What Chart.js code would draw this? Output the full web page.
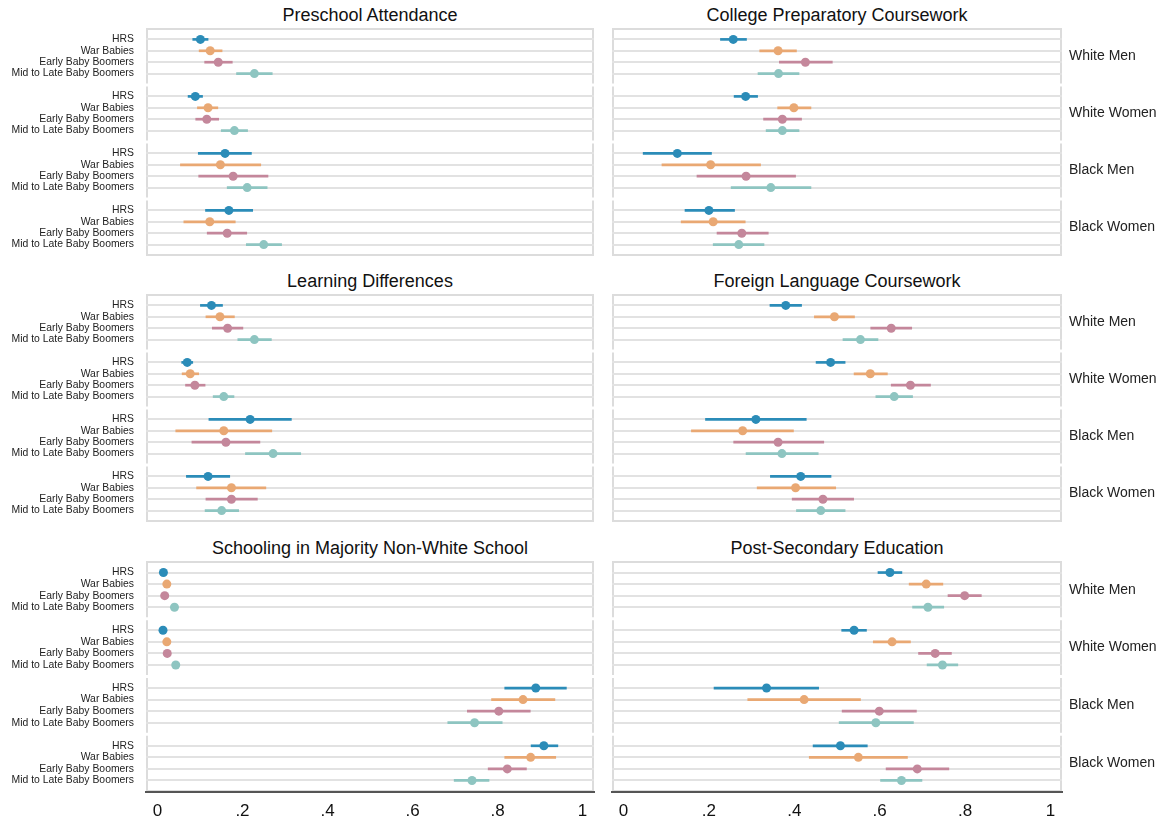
<!DOCTYPE html>
<html>
<head>
<meta charset="utf-8">
<title>Schooling measures by cohort, race and gender</title>
<script src="https://cdn.jsdelivr.net/npm/chart.js@4.4.1/dist/chart.umd.min.js"></script>
<style>
  html, body { margin: 0; padding: 0; background: #fff; overflow: hidden; }
  #page { position: relative; width: 1170px; height: 821px; }
  #page canvas { position: absolute; }
  .title {
    position: absolute; height: 20px; line-height: 20px;
    font: 18px "Liberation Sans", Arial, sans-serif; color: #111;
    text-align: center; white-space: nowrap;
  }
</style>
</head>
<body>
<div id="page"></div>
<script>
const cohorts = ['HRS', 'War Babies', 'Early Baby Boomers', 'Mid to Late Baby Boomers'];
const groups = ['White Men', 'White Women', 'Black Men', 'Black Women'];
const cohortColors = ['#2b8cb8', '#e9a873', '#c4879b', '#8ec5c1'];
const xTicks = [0, 0.2, 0.4, 0.6, 0.8, 1];
const xTickLabels = ['0', '.2', '.4', '.6', '.8', '1'];

// rows = groups (WM, WW, BM, BW), columns = cohorts
const preschoolEst = [[.101, .124, .143, .228], [.089, .119, .116, .181], [.159, .148, .178, .211], [.168, .123, .164, .250]];
const preschoolLo  = [[.083, .098, .111, .186], [.072, .094, .090, .150], [.096, .054, .097, .164], [.113, .062, .117, .209]];
const preschoolHi  = [[.119, .152, .176, .270], [.106, .142, .144, .212], [.221, .243, .260, .258], [.224, .183, .210, .292]];

const collegePrepEst = [[.257, .362, .426, .363], [.286, .399, .372, .372], [.126, .204, .287, .345], [.200, .210, .277, .270]];
const collegePrepLo  = [[.227, .319, .365, .315], [.259, .361, .328, .334], [.046, .090, .172, .252], [.144, .135, .219, .210]];
const collegePrepHi  = [[.288, .405, .489, .411], [.314, .439, .417, .411], [.206, .321, .403, .439], [.260, .285, .339, .329]];

const learningEst = [[.127, .147, .165, .228], [.070, .077, .088, .156], [.218, .156, .161, .272], [.119, .174, .174, .151]];
const learningLo  = [[.101, .114, .129, .189], [.057, .058, .066, .131], [.121, .043, .081, .207], [.068, .092, .114, .112]];
const learningHi  = [[.153, .181, .201, .268], [.083, .097, .112, .180], [.315, .269, .241, .337], [.170, .255, .235, .191]];

const languageEst = [[.380, .494, .627, .555], [.485, .578, .672, .634], [.310, .279, .362, .371], [.415, .403, .467, .462]];
const languageLo  = [[.343, .447, .579, .514], [.451, .540, .627, .591], [.192, .159, .258, .287], [.344, .313, .395, .405]];
const languageHi  = [[.417, .541, .675, .596], [.519, .618, .719, .677], [.428, .398, .469, .456], [.486, .497, .539, .519]];

const nonWhiteEst = [[.014, .022, .017, .040], [.013, .022, .023, .043], [.890, .860, .803, .746], [.909, .878, .823, .740]];
const nonWhiteLo  = [[.009, .016, .012, .033], [.009, .017, .018, .036], [.817, .786, .729, .683], [.879, .817, .778, .698]];
const nonWhiteHi  = [[.019, .028, .022, .047], [.017, .027, .028, .050], [.962, .935, .877, .811], [.942, .937, .868, .780]];

const postSecEst = [[.624, .709, .799, .713], [.540, .629, .730, .747], [.335, .423, .599, .591], [.508, .550, .688, .651]];
const postSecLo  = [[.596, .669, .760, .677], [.511, .585, .691, .711], [.212, .291, .512, .505], [.444, .435, .615, .602]];
const postSecHi  = [[.652, .748, .838, .750], [.569, .672, .768, .783], [.457, .555, .686, .679], [.571, .665, .762, .699]];

const panels = [
  { title: 'Preschool Attendance', est: preschoolEst, lo: preschoolLo, hi: preschoolHi },
  { title: 'College Preparatory Coursework', est: collegePrepEst, lo: collegePrepLo, hi: collegePrepHi },
  { title: 'Learning Differences', est: learningEst, lo: learningLo, hi: learningHi },
  { title: 'Foreign Language Coursework', est: languageEst, lo: languageLo, hi: languageHi },
  { title: 'Schooling in Majority Non-White School', est: nonWhiteEst, lo: nonWhiteLo, hi: nonWhiteHi },
  { title: 'Post-Secondary Education', est: postSecEst, lo: postSecLo, hi: postSecHi },
];

const FONT = '"Liberation Sans", Arial, sans-serif';
const ROWS_PER_GROUP = 5;           // 4 cohorts plus one row of spacing
const Y_MAX = groups.length * ROWS_PER_GROUP;
const rowPos = (g, c) => g * ROWS_PER_GROUP + c + 1;
const rowTicks = [];
groups.forEach((g, gi) => cohorts.forEach((c, ci) => rowTicks.push(rowPos(gi, ci))));
const groupTicks = groups.map((g, gi) => gi * ROWS_PER_GROUP + ROWS_PER_GROUP / 2);

const plotTops = [28, 294, 561];
const plotHeight = 228;
const columns = [
  { canvasLeft: 0, canvasWidth: 600, yWidth: 146, padRight: 6, y2Width: 0 },
  { canvasLeft: 600, canvasWidth: 570, yWidth: 12, padRight: 0, y2Width: 108 },
];

// vertical axes: fixed width, and no extra top/bottom padding from tick labels
const fixVertical = width => s => {
  s.width = width;
  s.paddingTop = 0;
  s.paddingBottom = 0;
};

// light frame around each group block
const groupFrames = {
  id: 'groupFrames',
  beforeDraw(chart) {
    const { ctx, chartArea } = chart;
    const y = chart.scales.y;
    ctx.save();
    ctx.strokeStyle = '#dcdcdc';
    ctx.lineWidth = 2;
    groups.forEach((g, gi) => {
      const top = y.getPixelForValue(gi * ROWS_PER_GROUP) + (gi === 0 ? 1 : 1.5);
      const bot = y.getPixelForValue((gi + 1) * ROWS_PER_GROUP) - (gi === groups.length - 1 ? 1 : 1.5);
      ctx.beginPath();
      ctx.moveTo(chartArea.left + 1, top);
      ctx.lineTo(chartArea.left + 1, bot);
      ctx.moveTo(chartArea.right - 1, top);
      ctx.lineTo(chartArea.right - 1, bot);
      if (gi === 0) {
        ctx.moveTo(chartArea.left, top);
        ctx.lineTo(chartArea.right, top);
      }
      if (gi === groups.length - 1) {
        ctx.moveTo(chartArea.left, bot);
        ctx.lineTo(chartArea.right, bot);
      }
      ctx.stroke();
    });
    ctx.restore();
  }
};

function makePanel(p, idx) {
  const col = columns[idx % 2];
  const row = Math.floor(idx / 2);
  const isBottom = row === 2;
  const isLeft = idx % 2 === 0;
  const xAxisHeight = isBottom ? 30 : 0;

  const canvas = document.createElement('canvas');
  canvas.width = col.canvasWidth;
  canvas.height = plotHeight + 6 + xAxisHeight;
  canvas.style.left = col.canvasLeft + 'px';
  canvas.style.top = (plotTops[row] - 3) + 'px';
  document.getElementById('page').appendChild(canvas);

  const plotLeft = col.canvasLeft + col.yWidth;
  const plotRight = col.canvasLeft + col.canvasWidth - col.padRight - col.y2Width;
  const title = document.createElement('div');
  title.className = 'title';
  title.textContent = p.title;
  title.style.left = plotLeft + 'px';
  title.style.width = (plotRight - plotLeft) + 'px';
  title.style.top = (plotTops[row] - 23) + 'px';
  document.getElementById('page').appendChild(title);

  const datasets = [];
  cohorts.forEach((c, ci) => {
    datasets.push({
      type: 'scatter',
      label: c,
      order: 0,
      xAxisID: 'x', yAxisID: 'y',
      data: groups.map((g, gi) => ({ x: p.est[gi][ci], y: rowPos(gi, ci) })),
      pointRadius: 4.5,
      pointBackgroundColor: cohortColors[ci],
      pointBorderWidth: 0,
      showLine: false,
    });
    datasets.push({
      type: 'bar',
      label: c + ' 95% CI',
      order: 1,
      indexAxis: 'y',
      grouped: false,
      xAxisID: 'x', yAxisID: 'y',
      data: groups.map((g, gi) => ({ x: [p.lo[gi][ci], p.hi[gi][ci]], y: rowPos(gi, ci) })),
      backgroundColor: cohortColors[ci],
      borderWidth: 0,
      barThickness: 2,
    });
  });

  const scales = {
    x: {
      type: 'linear',
      min: -0.027, max: 1.027,
      offset: false,
      display: isBottom,
      afterBuildTicks: s => { s.ticks = xTicks.map(v => ({ value: v })); },
      afterFit: s => { s.height = xAxisHeight; s.paddingLeft = 0; s.paddingRight = 0; },
      grid: { display: false, drawTicks: false, offset: false },
      border: { display: true, color: '#555', width: 2 },
      ticks: {
        padding: 9,
        color: '#111',
        font: { family: FONT, size: 17 },
        callback: (v, i) => xTickLabels[i],
      },
    },
    y: {
      type: 'linear',
      position: 'left',
      min: 0, max: Y_MAX, reverse: true,
      offset: false,
      afterBuildTicks: s => { s.ticks = rowTicks.map(v => ({ value: v })); },
      afterFit: fixVertical(col.yWidth),
      grid: { color: '#e2e2e2', lineWidth: 2, drawTicks: false, offset: false },
      border: { display: false },
      ticks: {
        display: isLeft,
        autoSkip: false,
        padding: 12,
        color: '#222',
        font: { family: FONT, size: 10.4 },
        callback: (v, i) => cohorts[i % cohorts.length],
      },
    },
  };
  if (!isLeft) {
    scales.y2 = {
      type: 'linear',
      position: 'right',
      min: 0, max: Y_MAX, reverse: true,
      offset: false,
      afterBuildTicks: s => { s.ticks = groupTicks.map(v => ({ value: v })); },
      afterFit: fixVertical(col.y2Width),
      grid: { display: false, drawTicks: false },
      border: { display: false },
      ticks: {
        autoSkip: false,
        padding: 7,
        color: '#222',
        font: { family: FONT, size: 14 },
        callback: (v, i) => groups[i],
      },
    };
  }

  new Chart(canvas.getContext('2d'), {
    type: 'scatter',
    data: { datasets },
    options: {
      responsive: false,
      animation: false,
      devicePixelRatio: 1,
      layout: {
        autoPadding: false,
        padding: { top: 3, bottom: isBottom ? 0 : 3, left: 0, right: col.padRight },
      },
      plugins: { legend: { display: false }, tooltip: { enabled: false } },
      scales,
    },
    plugins: [groupFrames],
  });
}

panels.forEach(makePanel);
</script>
</body>
</html>
